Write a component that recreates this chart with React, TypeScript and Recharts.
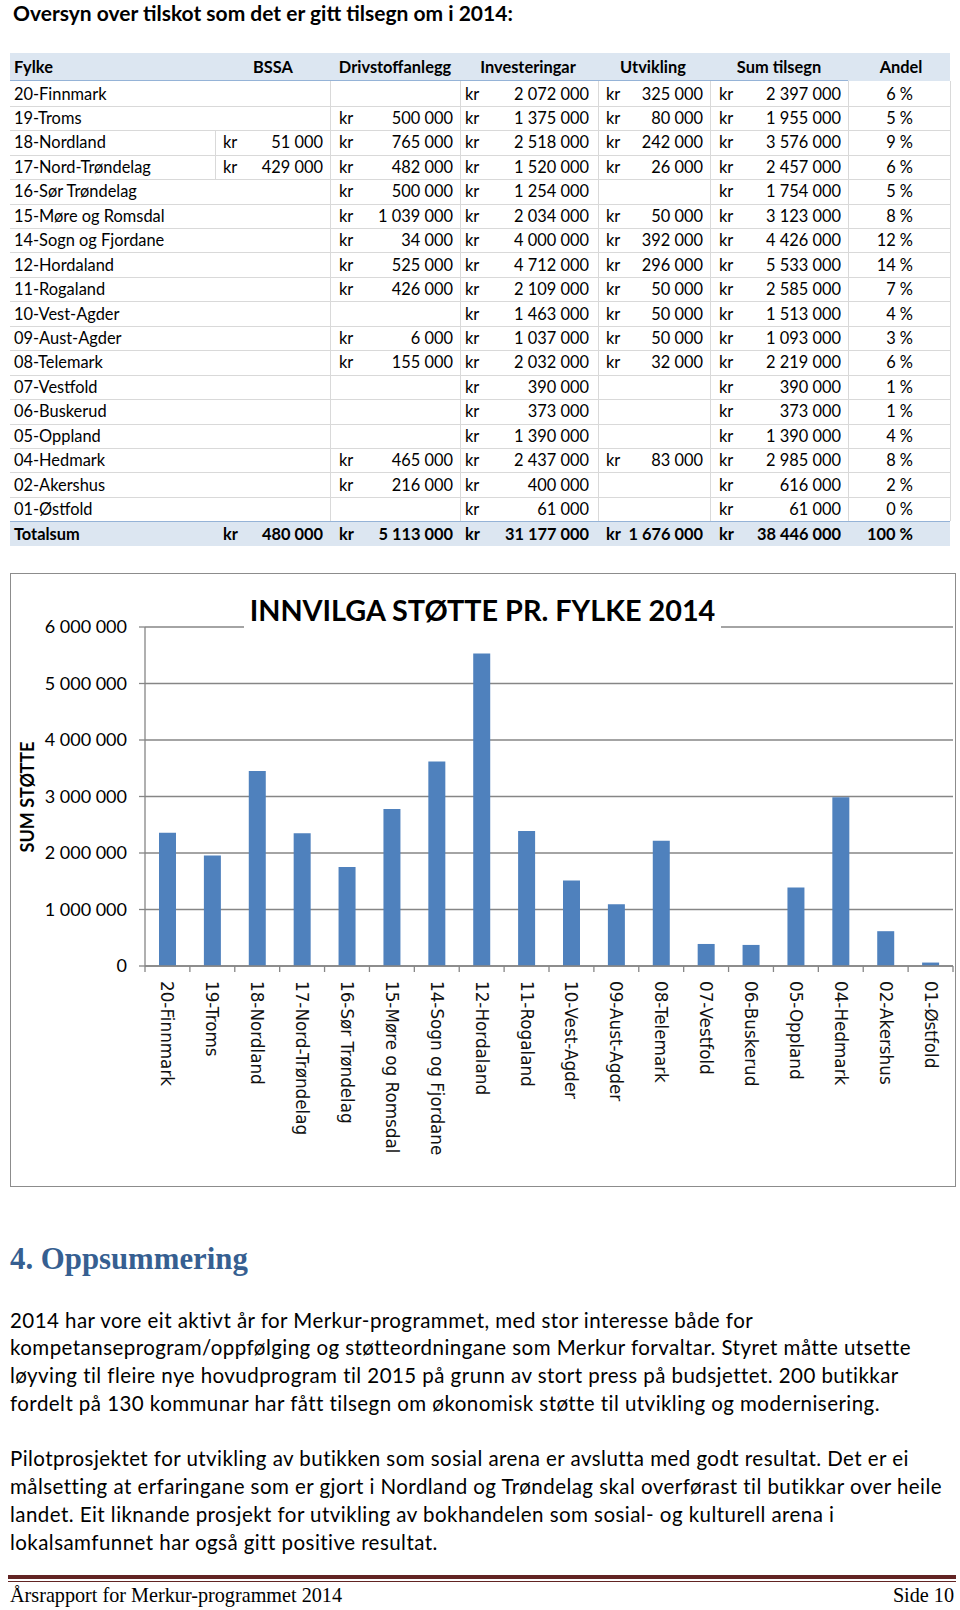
import React from 'react';
import { BarChart, Bar, XAxis, YAxis, CartesianGrid } from 'recharts';

// table data (kr), null = empty cell
const fylker = [
  '20-Finnmark', '19-Troms', '18-Nordland', '17-Nord-Trøndelag', '16-Sør Trøndelag',
  '15-Møre og Romsdal', '14-Sogn og Fjordane', '12-Hordaland', '11-Rogaland', '10-Vest-Agder',
  '09-Aust-Agder', '08-Telemark', '07-Vestfold', '06-Buskerud', '05-Oppland',
  '04-Hedmark', '02-Akershus', '01-Østfold',
];
const bssa = [null, null, 51000, 429000, null, null, null, null, null, null, null, null, null, null, null, null, null, null];
const drivstoff = [null, 500000, 765000, 482000, 500000, 1039000, 34000, 525000, 426000, null, 6000, 155000, null, null, null, 465000, 216000, null];
const investeringar = [2072000, 1375000, 2518000, 1520000, 1254000, 2034000, 4000000, 4712000, 2109000, 1463000, 1037000, 2032000, 390000, 373000, 1390000, 2437000, 400000, 61000];
const utvikling = [325000, 80000, 242000, 26000, null, 50000, 392000, 296000, 50000, 50000, 50000, 32000, null, null, null, 83000, null, null];
const sumTilsegn = [2397000, 1955000, 3576000, 2457000, 1754000, 3123000, 4426000, 5533000, 2585000, 1513000, 1093000, 2219000, 390000, 373000, 1390000, 2985000, 616000, 61000];
const andel = [6, 5, 9, 6, 5, 8, 12, 14, 7, 4, 3, 6, 1, 1, 4, 8, 2, 0];
const totals = [480000, 5113000, 31177000, 1676000, 38446000];
const totalAndel = 100;
const headers = ['Fylke', 'BSSA', 'Drivstoffanlegg', 'Investeringar', 'Utvikling', 'Sum tilsegn', 'Andel'];

// bar heights as drawn in the chart
const chartValues = [2358000, 1955000, 3450000, 2350000, 1754000, 2780000, 3620000, 5533000, 2390000, 1513000, 1093000, 2219000, 390000, 373000, 1390000, 2985000, 616000, 61000];
const yTicks = [0, 1000000, 2000000, 3000000, 4000000, 5000000, 6000000];

const paragraph1 = [
  '2014 har vore eit aktivt år for Merkur-programmet, med stor interesse både for',
  'kompetanseprogram/oppfølging og støtteordningane som Merkur forvaltar. Styret måtte utsette',
  'løyving til fleire nye hovudprogram til 2015 på grunn av stort press på budsjettet. 200 butikkar',
  'fordelt på 130 kommunar har fått tilsegn om økonomisk støtte til utvikling og modernisering.',
];
const paragraph2 = [
  'Pilotprosjektet for utvikling av butikken som sosial arena er avslutta med godt resultat. Det er ei',
  'målsetting at erfaringane som er gjort i Nordland og Trøndelag skal overførast til butikkar over heile',
  'landet. Eit liknande prosjekt for utvikling av bokhandelen som sosial- og kulturell arena i',
  'lokalsamfunnet har også gitt positive resultat.',
];

const chartData = fylker.map((name, i) => ({ name, value: chartValues[i] }));

const fmt = (n: number) => String(n).replace(/\B(?=(\d{3})+(?!\d))/g, ' ');

const SANS = 'Lato, "Open Sans", sans-serif';
const SERIF = '"Liberation Serif", "DejaVu Serif", serif';
const GRID = '#868686';

const ROW0 = 93.5;
const ROW_H = 24.45;
const TOTAL_Y = 534;
const colKr = [223, 339, 465, 606, 719];
const colRight = [323, 453, 589, 703, 841];
const ANDEL_RIGHT = 913;
const vLines = [215, 330, 460, 598, 710, 848, 950];
const headerCenters = [0, 273, 395, 528, 653, 779, 901];

const txt = (x: number, cy: number, s: string, extra: React.CSSProperties = {}) => (
  <div style={{ position: 'absolute', left: x, top: cy - 11, height: 22, lineHeight: '22px', whiteSpace: 'nowrap', ...extra }}>{s}</div>
);
const txtRight = (right: number, cy: number, s: string, extra: React.CSSProperties = {}) => (
  <div style={{ position: 'absolute', left: right - 200, width: 200, textAlign: 'right', top: cy - 11, height: 22, lineHeight: '22px', whiteSpace: 'nowrap', ...extra }}>{s}</div>
);
const txtCenter = (cx: number, cy: number, s: string, extra: React.CSSProperties = {}) => (
  <div style={{ position: 'absolute', left: cx - 100, width: 200, textAlign: 'center', top: cy - 11, height: 22, lineHeight: '22px', whiteSpace: 'nowrap', ...extra }}>{s}</div>
);

const CategoryTick = (props: any) => {
  const { x, y, payload, index } = props;
  const half = payload && payload.offset ? payload.offset : 22.45;
  const axisY = y - 15;
  return (
    <g>
      <line x1={x - half} x2={x - half} y1={axisY} y2={axisY + 6} stroke={GRID} strokeWidth={1.3} />
      {index === fylker.length - 1 && (
        <line x1={x + half} x2={x + half} y1={axisY} y2={axisY + 6} stroke={GRID} strokeWidth={1.3} />
      )}
      <text
        transform={`translate(${x},${y}) rotate(90)`}
        textAnchor="start"
        dominantBaseline="central"
        fontFamily='"DejaVu Sans", sans-serif'
        fontSize={16.8}
        fill="#111"
      >
        {payload.value}
      </text>
    </g>
  );
};

const Table = () => {
  const rows = fylker.map((name, i) => {
    const cy = ROW0 + i * ROW_H;
    const cells = [bssa[i], drivstoff[i], investeringar[i], utvikling[i], sumTilsegn[i]];
    return (
      <React.Fragment key={name}>
        {i < fylker.length - 1 && (
          <div style={{ position: 'absolute', left: 10, width: 940, top: cy + ROW_H / 2, height: 1, background: '#d9d9d9' }} />
        )}
        {vLines.map((vx, k) =>
          k === 0 && bssa[i] === null ? null : (
            <div key={vx} style={{ position: 'absolute', left: vx, top: cy - ROW_H / 2, width: 1, height: ROW_H, background: '#d9d9d9' }} />
          )
        )}
        {txt(14, cy, name)}
        {cells.map((v, k) =>
          v === null ? null : (
            <React.Fragment key={k}>
              {txt(colKr[k], cy, 'kr')}
              {txtRight(colRight[k], cy, fmt(v))}
            </React.Fragment>
          )
        )}
        {txtRight(ANDEL_RIGHT, cy, `${andel[i]} %`)}
      </React.Fragment>
    );
  });
  return (
    <div style={{ position: 'absolute', left: 0, top: 0, width: 960, fontFamily: SANS, fontSize: 16.4, color: '#000' }}>
      <div style={{ position: 'absolute', left: 10, top: 53, width: 940, height: 28, background: '#dce6f1' }} />
      <div style={{ position: 'absolute', left: 10, top: 80, width: 838, height: 1, background: '#95b3d7' }} />
      {headers.map((h, k) =>
        k === 0 ? (
          <React.Fragment key={h}>{txt(14, 67, h, { fontWeight: 700 })}</React.Fragment>
        ) : (
          <React.Fragment key={h}>{txtCenter(headerCenters[k], 67, h, { fontWeight: 700 })}</React.Fragment>
        )
      )}
      {rows}
      <div style={{ position: 'absolute', left: 10, top: 522, width: 940, height: 24, background: '#dce6f1' }} />
      <div style={{ position: 'absolute', left: 10, top: 521, width: 940, height: 1, background: '#95b3d7' }} />
      {txt(14, TOTAL_Y, 'Totalsum', { fontWeight: 700 })}
      {totals.map((v, k) => (
        <React.Fragment key={k}>
          {txt(colKr[k], TOTAL_Y, 'kr', { fontWeight: 700 })}
          {txtRight(colRight[k], TOTAL_Y, fmt(v), { fontWeight: 700 })}
        </React.Fragment>
      ))}
      {txtRight(ANDEL_RIGHT, TOTAL_Y, `${totalAndel} %`, { fontWeight: 700 })}
    </div>
  );
};

const App: React.FC = () => {
  return (
    <div style={{ position: 'absolute', left: 0, top: 0, width: 960, height: 1610, background: '#fff', overflow: 'hidden' }}>
      <div style={{ position: 'absolute', left: 13, top: 0, fontFamily: SANS, fontWeight: 700, fontSize: 21, lineHeight: '26px', whiteSpace: 'nowrap' }}>
        Oversyn over tilskot som det er gitt tilsegn om i 2014:
      </div>

      <Table />

      {/* chart */}
      <div style={{ position: 'absolute', left: 10, top: 573, width: 946, height: 614 }}>
        <BarChart width={946} height={614} data={chartData} margin={{ top: 54, right: 3, bottom: 0, left: 0 }} barSize={17}>
          <CartesianGrid horizontal vertical={false} stroke={GRID} strokeWidth={1.3} />
          <XAxis
            dataKey="name"
            interval={0}
            height={221}
            axisLine={{ stroke: GRID, strokeWidth: 1.3 }}
            tickLine={false}
            tickSize={6}
            tickMargin={9}
            tick={<CategoryTick />}
          />
          <YAxis
            type="number"
            domain={[0, 6000000]}
            ticks={yTicks}
            width={135}
            axisLine={{ stroke: GRID, strokeWidth: 1.3 }}
            tickLine={{ stroke: GRID, strokeWidth: 1.3 }}
            tickSize={6}
            tickMargin={12}
            tickFormatter={(v: number) => fmt(v)}
            tick={{ fill: '#000', fontSize: 18, fontFamily: SANS }}
          />
          <Bar dataKey="value" fill="#4f81bd" isAnimationActive={false} />
        </BarChart>
      </div>
      <div style={{ position: 'absolute', left: 10, top: 573, width: 946, height: 614, border: '1.5px solid #8c8c8c', boxSizing: 'border-box', pointerEvents: 'none' }} />
      <div style={{ position: 'absolute', left: 244, top: 590, width: 477, height: 40, background: '#fff', textAlign: 'center', fontFamily: SANS, fontWeight: 700, fontSize: 28.8, lineHeight: '40px', whiteSpace: 'nowrap' }}>
        INNVILGA STØTTE PR. FYLKE 2014
      </div>
      <div style={{ position: 'absolute', left: 27, top: 797, width: 0, height: 0 }}>
        <div style={{ position: 'absolute', left: -80, top: -12, width: 160, height: 24, lineHeight: '24px', textAlign: 'center', transform: 'rotate(-90deg)', fontFamily: SANS, fontWeight: 700, fontSize: 18, whiteSpace: 'nowrap' }}>
          SUM STØTTE
        </div>
      </div>

      {/* text */}
      <div style={{ position: 'absolute', left: 10, top: 1240, fontFamily: SERIF, fontWeight: 700, fontSize: 30.8, lineHeight: '38px', color: '#365f91', whiteSpace: 'nowrap' }}>
        4. Oppsummering
      </div>
      <div style={{ fontFamily: SANS, fontSize: 20.5, letterSpacing: '0.45px', color: '#000' }}>
        {paragraph1.map((l, i) => (
          <React.Fragment key={l}>{txt(10, 1319.5 + i * 27.7, l)}</React.Fragment>
        ))}
        {paragraph2.map((l, i) => (
          <React.Fragment key={l}>{txt(10, 1458 + i * 27.9, l)}</React.Fragment>
        ))}
      </div>

      {/* footer */}
      <div style={{ position: 'absolute', left: 8, top: 1575, width: 948, height: 4, background: '#622423' }} />
      <div style={{ position: 'absolute', left: 8, top: 1581, width: 948, height: 1, background: '#622423' }} />
      <div style={{ fontFamily: SERIF, fontSize: 20.2, color: '#000' }}>
        {txt(10, 1595, 'Årsrapport for Merkur-programmet 2014')}
        {txtRight(954, 1595, 'Side 10')}
      </div>
    </div>
  );
};

export default App;
